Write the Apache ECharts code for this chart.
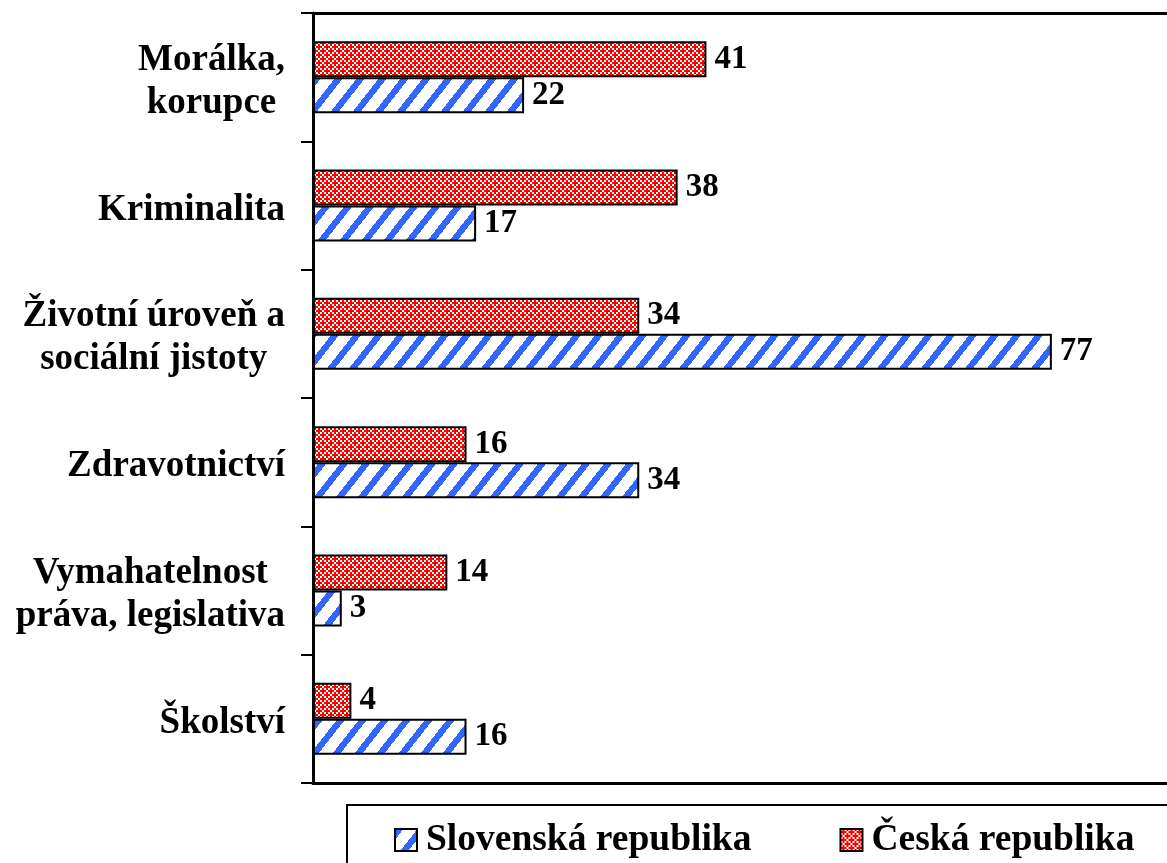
<!DOCTYPE html>
<html>
<head>
<meta charset="utf-8">
<script src="https://cdn.jsdelivr.net/npm/echarts@6/dist/echarts.min.js"></script>
<style>
html,body{margin:0;padding:0;background:#fff;}
#chart{width:1167px;height:863px;}
</style>
</head>
<body>
<div id="chart"></div>
<script>
const categories = ['Morálka,\nkorupce', 'Kriminalita', 'Životní úroveň a\nsociální jistoty', 'Zdravotnictví', 'Vymahatelnost\npráva, legislativa', 'Školství'];
const czValues = [41, 38, 34, 16, 14, 4];
const skValues = [22, 17, 77, 34, 3, 16];
const seriesNames = ['Slovenská republika', 'Česká republika'];

function redPattern() {
  const c = document.createElement('canvas');
  c.width = 8; c.height = 8;
  const ctx = c.getContext('2d');
  ctx.fillStyle = '#FF0000';
  ctx.fillRect(0, 0, 8, 8);
  const g = [
    [1, 0, 1, 0],
    [0, 0, 0, 1],
    [1, 0, 1, 0],
    [0, 1, 0, 0]
  ];
  ctx.fillStyle = '#FFFFFF';
  for (let r = 0; r < 4; r++) for (let q = 0; q < 4; q++) if (g[r][q]) ctx.fillRect(q * 2, r * 2, 2, 2);
  return c;
}
function bluePattern() {
  const W = 22, H = 28, S = 8;
  const c = document.createElement('canvas');
  c.width = W; c.height = H;
  const ctx = c.getContext('2d');
  ctx.fillStyle = '#FFFFFF';
  ctx.fillRect(0, 0, W, H);
  ctx.fillStyle = '#3366FF';
  for (let y = 0; y < H; y++) {
    const xs = Math.round((H - y) * W / H);
    for (let k = -1; k <= 1; k++) {
      ctx.fillRect(xs + k * W, y, S, 1);
    }
  }
  return c;
}

const font = '"Liberation Serif", "Times New Roman", serif';
const chart = echarts.init(document.getElementById('chart'), null, {renderer: 'canvas'});

const labelStyle = {
  show: true, position: 'right', distance: 8,
  fontFamily: font, fontWeight: 'bold', fontSize: 33, color: '#000'
};

chart.setOption({
  animation: false,
  backgroundColor: '#fff',
  grid: {left: 313, top: 13, right: 0, height: 770, containLabel: false},
  legend: {
    data: seriesNames,
    left: 347, top: 805, width: 1000,
    orient: 'horizontal',
    padding: [16, 60, 40, 47],
    itemGap: 88,
    itemWidth: 22, itemHeight: 22,
    borderColor: '#000', borderWidth: 2,
    icon: 'rect',
    itemStyle: {borderColor: '#000', borderWidth: 2},
    textStyle: {fontFamily: font, fontWeight: 'bold', fontSize: 37.5, color: '#000', padding: [0, 0, 0, 4]}
  },
  xAxis: [
    {type: 'value', min: 0, max: 89, position: 'bottom',
     axisLine: {show: true, lineStyle: {color: '#000', width: 3}},
     axisTick: {show: false}, axisLabel: {show: false}, splitLine: {show: false}},
    {type: 'value', min: 0, max: 89, position: 'top',
     axisLine: {show: true, lineStyle: {color: '#000', width: 3}},
     axisTick: {show: false}, axisLabel: {show: false}, splitLine: {show: false}}
  ],
  yAxis: {
    type: 'category', data: categories, inverse: true,
    axisLine: {show: true, lineStyle: {color: '#000', width: 3}},
    axisTick: {show: true, length: 12, inside: false, lineStyle: {color: '#000', width: 2}},
    axisLabel: {
      margin: 28,
      padding: [9, 0, 0, 0],
      formatter: v => v.split('\n').map(l => '{c|' + l + '}').join('\n'),
      rich: {c: {align: 'center', fontFamily: font, fontWeight: 'bold', fontSize: 37, color: '#000', lineHeight: 43}}
    }
  },
  series: [
    {name: seriesNames[1], type: 'bar', data: czValues, barWidth: 36, barGap: '0%',
     itemStyle: {color: {image: redPattern(), repeat: 'repeat'}, borderColor: '#000', borderWidth: 2},
     label: labelStyle},
    {name: seriesNames[0], type: 'bar', data: skValues, barWidth: 36, barGap: '0%',
     itemStyle: {color: {image: bluePattern(), repeat: 'repeat'}, borderColor: '#000', borderWidth: 2},
     label: labelStyle}
  ]
});
</script>
</body>
</html>
